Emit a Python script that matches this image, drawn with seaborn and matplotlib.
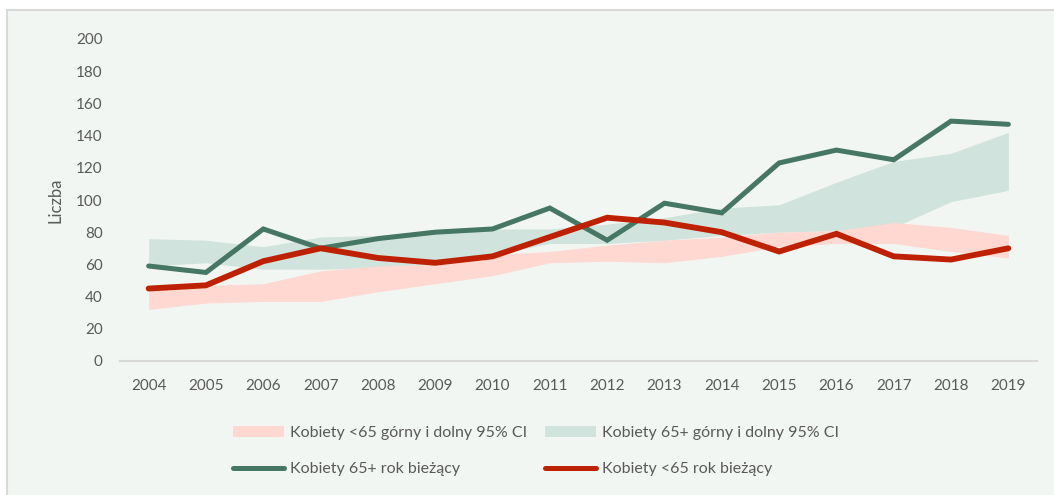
import matplotlib
matplotlib.use("Agg")
import matplotlib.pyplot as plt
from matplotlib.patches import Patch, Rectangle
from matplotlib.lines import Line2D
import seaborn as sns
import pandas as pd

years = list(range(2004, 2020))

# Observed counts, current year
women_65plus = [59, 55, 82, 70, 76, 80, 82, 95, 75, 98, 92, 123, 131, 125, 149, 147]
women_under65 = [45, 47, 62, 70, 64, 61, 65, 77, 89, 86, 80, 68, 79, 65, 63, 70]

# 95% confidence bands
ci65_upper = [76, 75, 71, 77, 78, 81, 82, 82, 85, 89, 95, 97, 111, 124, 129, 142]
ci65_lower = [59, 61, 57, 57, 58, 59, 66, 73, 73, 75, 78, 80, 81, 83, 99, 106]
ciu65_upper = [44, 47, 48, 56, 59, 60, 66, 68, 72, 75, 77, 80, 81, 86, 83, 78]
ciu65_lower = [32, 36, 37, 37, 43, 48, 53, 61, 62, 61, 65, 71, 73, 73, 68, 64]

legend_labels = [
    "Kobiety <65 górny i dolny 95% CI",
    "Kobiety 65+ górny i dolny 95% CI",
    "Kobiety 65+ rok bieżący",
    "Kobiety <65 rok bieżący",
]

BG = "#F2F6F2"
GREEN = "#467664"
RED = "#BE2100"
GREEN_BAND = "#D0E3DC"
PINK_BAND = "#FFD8D2"
TEXT = "#595959"

sns.set_theme(style="white")
plt.rcParams["font.family"] = ["Lato", "DejaVu Sans"]

df = pd.DataFrame({
    "rok": years,
    "k65": women_65plus,
    "ku65": women_under65,
})

W, H = 1054, 495
fig = plt.figure(figsize=(W / 100, H / 100), dpi=100)
fig.patch.set_facecolor("white")
frame = Rectangle((7 / W, -0.01), 1.0, 1 - 10 / H + 0.01, transform=fig.transFigure,
                  facecolor=BG, edgecolor="#D9D9D9", linewidth=1.5, zorder=-10)
fig.add_artist(frame)

ax = fig.add_axes([120 / W, 1 - 361 / H, (1037 - 120) / W, (361 - 39) / H])
ax.patch.set_visible(False)

ax.fill_between(years, ci65_lower, ci65_upper, color=GREEN_BAND, linewidth=0, zorder=1)
ax.fill_between(years, ciu65_lower, ciu65_upper, color=PINK_BAND, linewidth=0, zorder=2)

sns.lineplot(data=df, x="rok", y="k65", ax=ax, color=GREEN, linewidth=3.6,
             solid_capstyle="round", solid_joinstyle="miter", zorder=3)
sns.lineplot(data=df, x="rok", y="ku65", ax=ax, color=RED, linewidth=4.2,
             solid_capstyle="round", solid_joinstyle="miter", zorder=4)

ax.set_xlim(2003.5, 2019.5)
ax.set_ylim(0, 200)
ax.set_xticks(years)
ax.set_xticklabels([str(y) for y in years])
ax.set_yticks(range(0, 201, 20))
ax.tick_params(axis="both", length=0, labelsize=11, colors=TEXT)
ax.tick_params(axis="y", pad=12.5)
ax.tick_params(axis="x", pad=13)
ax.set_xlabel("")
ax.set_ylabel("Liczba", fontsize=12, color=TEXT, labelpad=9)

for side in ["top", "right", "left"]:
    ax.spines[side].set_visible(False)
ax.spines["bottom"].set_color("#D9D9D9")
ax.spines["bottom"].set_linewidth(1.5)

# Legend: two columns, each anchored at its own left edge
leg_kw = dict(loc="center left", frameon=False, fontsize=11.5, handlelength=3.2,
              handleheight=0.65, handletextpad=0.38, labelspacing=1.375,
              borderpad=0, borderaxespad=0)
col1 = fig.legend(
    [Patch(facecolor=PINK_BAND, edgecolor="none"),
     Line2D([0], [0], color=GREEN, linewidth=3.6, solid_capstyle="round")],
    [legend_labels[0], legend_labels[2]],
    bbox_to_anchor=(233 / W, 1 - 451 / H), **leg_kw)
col2 = fig.legend(
    [Patch(facecolor=GREEN_BAND, edgecolor="none"),
     Line2D([0], [0], color=RED, linewidth=3.6, solid_capstyle="round")],
    [legend_labels[1], legend_labels[3]],
    bbox_to_anchor=(545 / W, 1 - 451 / H), **leg_kw)
for leg in (col1, col2):
    for t in leg.get_texts():
        t.set_color(TEXT)

fig.savefig("out.png", dpi=100, facecolor="white")
